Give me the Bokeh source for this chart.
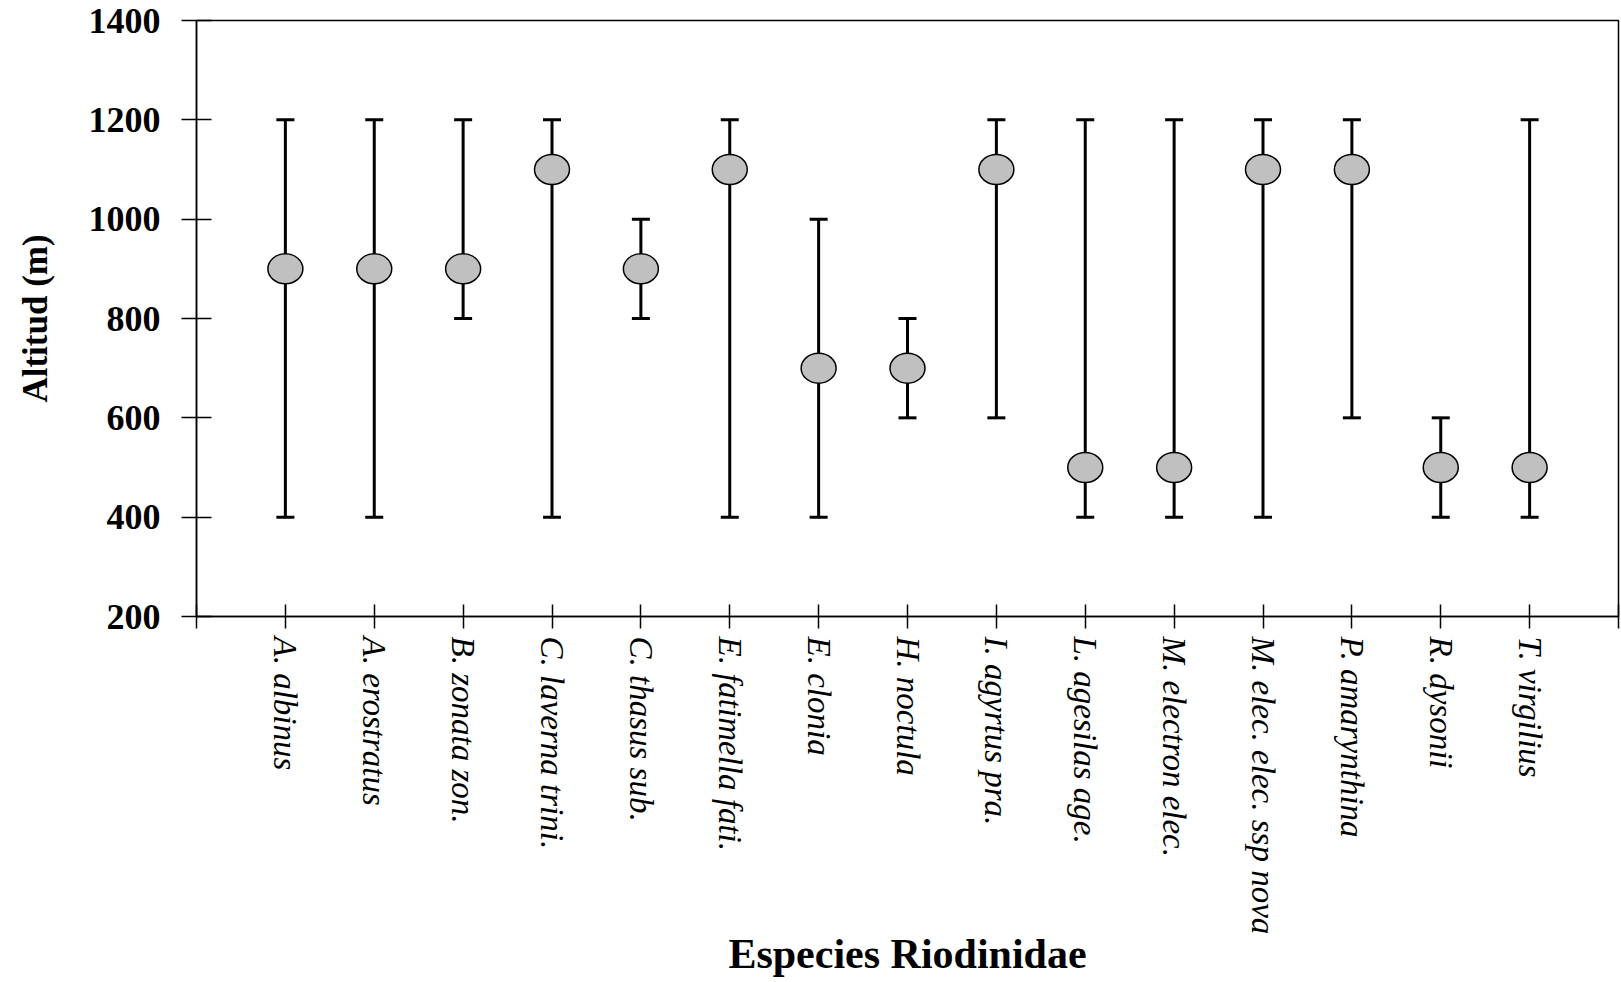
import math
from bokeh.plotting import figure
from bokeh.models import Whisker, TeeHead, ColumnDataSource, FixedTicker, Range1d
from bokeh.embed import file_html
from bokeh.resources import INLINE

species = [
    "A. albinus", "A. erostratus", "B. zonata zon.", "C. laverna trini.",
    "C. thasus sub.", "E. fatimella fati.", "E. clonia", "H. noctula",
    "I. agyrtus pra.", "L. agesilas  age.", "M. electron elec.",
    "M. elec. elec. ssp nova", "P. amarynthina", "R. dysonii", "T. virgilius",
]
alt_min = [400, 400, 800, 400, 800, 400, 400, 600, 600, 400, 400, 400, 600, 400, 400]
alt_max = [1200, 1200, 1200, 1200, 1000, 1200, 1000, 800, 1200, 1200, 1200, 1200, 1200, 600, 1200]
alt_mid = [900, 900, 900, 1100, 900, 1100, 700, 700, 1100, 500, 500, 1100, 1100, 500, 500]
y_ticks = [200, 400, 600, 800, 1000, 1200, 1400]

x_pos = list(range(1, len(species) + 1))
src = ColumnDataSource(dict(x=x_pos, lower=alt_min, upper=alt_max, center=alt_mid))

p = figure(
    width=1620, height=980,
    x_range=Range1d(0, len(species) + 1), y_range=Range1d(y_ticks[0], y_ticks[-1]),
    output_backend="svg", toolbar_location=None,
    min_border_left=196, min_border_right=2, min_border_top=20, min_border_bottom=363,
)
p.background_fill_color = "white"
p.border_fill_color = "white"
p.outline_line_color = "black"
p.outline_line_width = 1.5
p.xgrid.visible = False
p.ygrid.visible = False

w = Whisker(
    source=src, base="x", upper="upper", lower="lower", dimension="height",
    line_width=3, line_color="black",
    upper_head=TeeHead(size=18, line_width=3, line_color="black"),
    lower_head=TeeHead(size=18, line_width=3, line_color="black"),
)
p.add_layout(w)

p.ellipse(x="x", y="center", width=35, height=30, width_units="screen", height_units="screen",
          source=src, fill_color="#c0c0c0", line_color="black", line_width=1.5)

# X axis
xa = p.xaxis[0]
xa.ticker = FixedTicker(ticks=list(range(0, len(species) + 2)))
ov = {0: "", len(species) + 1: ""}
for i, s in zip(x_pos, species):
    ov[i] = s
xa.major_label_overrides = ov
xa.major_label_orientation = -math.pi / 2
xa.major_label_text_font = "Liberation Serif"
xa.major_label_text_font_style = "italic"
xa.major_label_text_font_size = "33px"
xa.major_label_text_color = "black"
xa.major_label_standoff = 8
xa.major_tick_in = 12
xa.major_tick_out = 12
xa.major_tick_line_color = "black"
xa.major_tick_line_width = 1.5
xa.minor_tick_line_color = None
xa.axis_line_color = "black"
xa.axis_line_width = 1.5
xa.axis_label = "Especies Riodinidae"
xa.axis_label_text_font = "Liberation Serif"
xa.axis_label_text_font_style = "bold"
xa.axis_label_text_font_size = "42px"
xa.axis_label_text_color = "black"
xa.axis_label_standoff = -6

# Y axis
ya = p.yaxis[0]
ya.ticker = FixedTicker(ticks=y_ticks)
ya.major_label_text_font = "Liberation Serif"
ya.major_label_text_font_style = "bold"
ya.major_label_text_font_size = "36px"
ya.major_label_text_color = "black"
ya.major_label_standoff = 21
ya.major_tick_in = 15
ya.major_tick_out = 15
ya.major_tick_line_color = "black"
ya.major_tick_line_width = 1.5
ya.minor_tick_line_color = None
ya.axis_line_color = "black"
ya.axis_line_width = 1.5
ya.axis_label = "Altitud (m)"
ya.axis_label_text_font = "Liberation Serif"
ya.axis_label_text_font_style = "bold"
ya.axis_label_text_font_size = "35px"
ya.axis_label_text_color = "black"
ya.axis_label_standoff = 31

open("out.html", "w").write(file_html(p, INLINE))
